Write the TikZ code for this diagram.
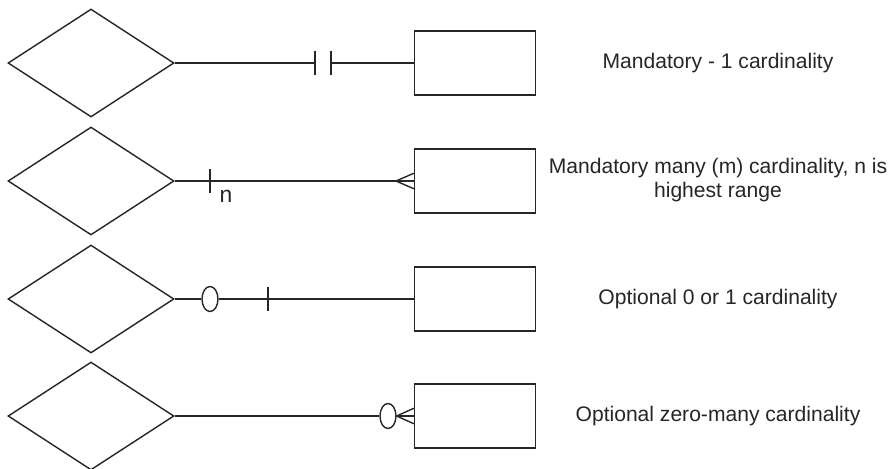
\documentclass[tikz,border=0pt]{standalone}
\usepackage{fontspec}
\setmainfont{Liberation Sans}
\usetikzlibrary{shapes.geometric}

\tikzset{
  rel/.style={draw, diamond, minimum width=3.32cm, minimum height=2.16cm, inner sep=0pt},
  ent/.style={draw, rectangle, minimum width=2.42cm, minimum height=1.28cm, inner sep=0pt},
  zero/.style={draw, ellipse, minimum width=0.32cm, minimum height=0.5cm, inner sep=0pt},
  note/.style={font=\fontsize{12}{13.3}\selectfont, align=center},
}

\begin{document}
\begin{tikzpicture}[x=0.02cm, y=-0.02cm, line width=0.8pt, color=black!85]
        \useasboundingbox (0,0) rectangle (894,468);
        \node[rel] (rel1) at (91,63) {};
        \node[rel] (rel2) at (91,181) {};
        \node[rel] (rel3) at (91,299) {};
        \node[rel] (rel4) at (91,416) {};
        \node[ent] (ent1) at (475,63) {};
        \node[ent] (ent2) at (475,181) {};
        \node[ent] (ent3) at (475,299) {};
        \node[ent] (ent4) at (475,416) {};

        \coordinate (bar1a) at (315,63);
        \coordinate (bar1b) at (331,63);
        \draw (rel1.east) -- (bar1a);
        \draw (bar1b) -- (ent1.west);
        \draw (315,51) -- (315,75);
        \draw (331,51) -- (331,75);

        \draw (rel2.east) -- (ent2.west);
        \draw (210,169) -- (210,193);
        \node[font=\fontsize{13}{14}\selectfont] (n2) at (226,196) {n};
        \coordinate (cf2) at (396,181);
        \draw ([yshift=4.4pt]ent2.west) -- (cf2) -- ([yshift=-4.4pt]ent2.west);

        \node[zero] (o3) at (210,299) {};
        \draw (rel3.east) -- (o3.west);
        \draw (o3.east) -- (ent3.west);
        \draw (268,287) -- (268,311);

        \node[zero] (o4) at (388,416) {};
        \draw (rel4.east) -- (o4.west);
        \draw (o4.east) -- (ent4.west);
        \draw ([yshift=4.4pt]ent4.west) -- (o4.east) -- ([yshift=-4.4pt]ent4.west);

        \node[note] (lbl1) at (718,63) {Mandatory - 1 cardinality};
        \node[note] (lbl2) at (718,180) {Mandatory many (m) cardinality, n is\\highest range};
        \node[note] (lbl3) at (718,299) {Optional 0 or 1 cardinality};
        \node[note] (lbl4) at (718,416) {Optional zero-many cardinality};
    \end{tikzpicture}
\end{document}
